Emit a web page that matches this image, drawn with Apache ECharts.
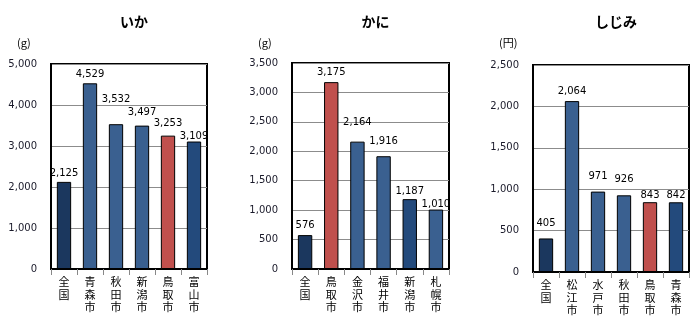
<!DOCTYPE html>
<html><head><meta charset="utf-8">
<script src="https://cdn.jsdelivr.net/npm/echarts@6/dist/echarts.min.js"></script>
<style>html,body{margin:0;padding:0;background:#fff}#c{width:700px;height:325px}</style>
</head><body><div id="c"></div>
<script>
const titles = ['いか', 'かに', 'しじみ'];
const units = ['(g)', '(g)', '(円)'];
const cats1 = ['全国', '青森市', '秋田市', '新潟市', '鳥取市', '富山市'];
const vals1 = [2125, 4529, 3532, 3497, 3253, 3109];
const cats2 = ['全国', '鳥取市', '金沢市', '福井市', '新潟市', '札幌市'];
const vals2 = [576, 3175, 2164, 1916, 1187, 1010];
const cats3 = ['全国', '松江市', '水戸市', '秋田市', '鳥取市', '青森市'];
const vals3 = [405, 2064, 971, 926, 843, 842];
const yMax = [5000, 3500, 2500];
const yStep = [1000, 500, 500];

// label placement (gap above bar top, px) as Excel placed them
const labelGap1 = [3, 4, 20, 8, 7, 0];
const labelGap2 = [5, 5, 14, 10, 3, 0];
const labelGap3 = [10, 5, 10, 11, 2, 2];

const NAVY = '#1b375e', MID = '#3a6090', DARK = '#234a7c', RED = '#c0504d';
const colors1 = [NAVY, MID, MID, MID, RED, DARK];
const colors2 = [NAVY, RED, MID, MID, DARK, MID];
const colors3 = [NAVY, MID, MID, MID, RED, DARK];

const grids = [
  {left: 51, width: 156, top: 64, height: 205},
  {left: 292, width: 157, top: 63, height: 206},
  {left: 533, width: 156, top: 65, height: 207}
];
const cats = [cats1, cats2, cats3];
const vals = [vals1, vals2, vals3];
const cols = [colors1, colors2, colors3];
const gaps = [labelGap1, labelGap2, labelGap3];
const numFont = 'DejaVu Sans';
const jpFont = 'Noto Sans CJK JP';

const chart = echarts.init(document.getElementById('c'));
chart.setOption({
  animation: false,
  title: titles.map((t, i) => ({
    text: t, left: grids[i].left + grids[i].width / 2, top: 10, textAlign: 'center',
    textStyle: {fontFamily: jpFont, fontSize: 14, fontWeight: 'bold', color: '#000'}
  })),
  graphic: units.map((u, i) => ({
    type: 'text', left: grids[i].left - 34, top: 37,
    style: {text: u, font: '11px "Noto Sans CJK JP"', fill: '#000'}
  })),
  grid: grids.map(g => Object.assign({show: true, borderColor: '#000', borderWidth: 2, backgroundColor: '#fff'}, g)),
  xAxis: cats.map((c, i) => ({
    type: 'category', gridIndex: i, data: c,
    axisLine: {show: true, lineStyle: {color: '#000', width: 2}},
    axisTick: {show: true, length: 6, lineStyle: {color: '#888'}},
    axisLabel: {
      interval: 0, margin: 7, lineHeight: 12.5, color: '#000',
      fontFamily: jpFont, fontSize: 11,
      formatter: v => v.split('').join('\n')
    }
  })),
  yAxis: yMax.map((m, i) => ({
    type: 'value', gridIndex: i, min: 0, max: m, interval: yStep[i],
    axisLine: {show: true, lineStyle: {color: '#000', width: 2}},
    axisTick: {show: false},
    splitLine: {lineStyle: {color: '#8c8c8c', width: 1}},
    axisLabel: {
      color: '#1a1a2a', fontFamily: numFont, fontSize: 10, margin: 14,
      formatter: v => v.toLocaleString('en-US')
    }
  })),
  series: vals.map((v, i) => ({
    type: 'bar', xAxisIndex: i, yAxisIndex: i, barWidth: '55%',
    data: v.map((x, j) => ({
      value: x, itemStyle: {color: cols[i][j]},
      label: {distance: gaps[i][j]}
    })),
    itemStyle: {borderColor: '#000', borderWidth: 1},
    label: {
      show: true, position: 'top', color: '#000',
      fontFamily: numFont, fontSize: 10,
      formatter: p => p.value.toLocaleString('en-US')
    }
  }))
});
</script></body></html>
